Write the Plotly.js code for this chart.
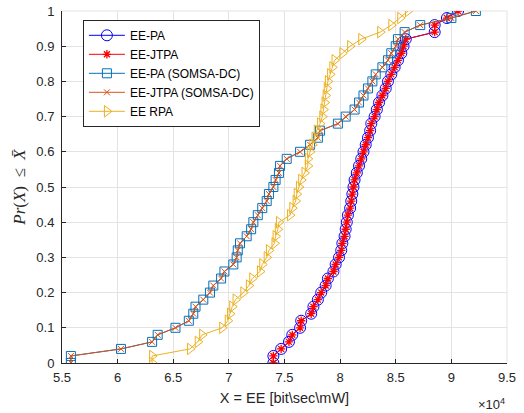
<!DOCTYPE html>
<html>
<head>
<meta charset="utf-8">
<script src="https://cdn.plot.ly/plotly-3.0.1.min.js"></script>
<style>html,body{margin:0;padding:0;background:#fff;}#chart{width:524px;height:413px;}</style>
</head>
<body>
<div id="chart"></div>
<script>
// CDF levels (0 to 1 in steps of 0.02)
const cdfLevels = [0,0.02,0.04,0.06,0.08,0.10,0.12,0.14,0.16,0.18,0.20,0.22,0.24,0.26,0.28,0.30,0.32,0.34,0.36,0.38,0.40,0.42,0.44,0.46,0.48,0.50,0.52,0.54,0.56,0.58,0.60,0.62,0.64,0.66,0.68,0.70,0.72,0.74,0.76,0.78,0.80,0.82,0.84,0.86,0.88,0.90,0.92,0.94,0.96,0.98,1.00];

// EE values, in units of 10^4 bit/sec/mW
const eePA = [7.40,7.40,7.47,7.54,7.57,7.64,7.65,7.74,7.76,7.80,7.83,7.87,7.89,7.94,7.96,7.99,8.01,8.02,8.04,8.05,8.06,8.07,8.09,8.10,8.11,8.12,8.13,8.15,8.17,8.19,8.21,8.23,8.25,8.27,8.28,8.31,8.33,8.35,8.38,8.41,8.43,8.46,8.49,8.52,8.55,8.57,8.59,8.85,8.85,8.96,9.06];
const eeJTPA = eePA.slice();
const eePASomsa = [5.58,5.58,6.03,6.31,6.36,6.52,6.64,6.68,6.70,6.77,6.83,6.86,6.93,6.96,7.04,7.07,7.08,7.10,7.16,7.20,7.22,7.26,7.30,7.34,7.36,7.40,7.42,7.45,7.46,7.52,7.64,7.73,7.80,7.82,7.98,8.05,8.13,8.17,8.21,8.25,8.29,8.32,8.38,8.43,8.46,8.50,8.52,8.58,8.72,9.00,9.22];
const eeJTPASomsa = eePASomsa.slice();
const eeRPA = [6.31,6.31,6.65,6.72,6.76,6.94,6.99,7.01,7.03,7.06,7.13,7.18,7.21,7.28,7.30,7.34,7.36,7.41,7.42,7.44,7.45,7.55,7.57,7.60,7.61,7.63,7.65,7.68,7.71,7.71,7.73,7.75,7.77,7.79,7.82,7.84,7.85,7.86,7.87,7.88,7.89,7.91,7.93,7.95,8.02,8.09,8.19,8.36,8.46,8.54,8.61];

const seriesNames = ['EE-PA','EE-JTPA','EE-PA (SOMSA-DC)','EE-JTPA (SOMSA-DC)','EE RPA'];
const xTicks = [5.5,6,6.5,7,7.5,8,8.5,9,9.5];
const yTicks = [0,0.1,0.2,0.3,0.4,0.5,0.6,0.7,0.8,0.9,1];

const txt = '#262626';
const traces = [
  {x: eePA, y: cdfLevels, name: seriesNames[0], mode: 'lines+markers',
   line: {color: '#0000ff', width: 1},
   marker: {symbol: 'circle-open', size: 11, color: '#0000ff', line: {width: 1, color: '#0000ff'}}},
  {x: eeJTPA, y: cdfLevels, name: seriesNames[1], mode: 'lines+markers',
   line: {color: '#ff0000', width: 1},
   marker: {symbol: 'asterisk-open', size: 7, color: '#ff0000', line: {width: 1.3, color: '#ff0000'}}},
  {x: eePASomsa, y: cdfLevels, name: seriesNames[2], mode: 'lines+markers',
   line: {color: '#0072BD', width: 1},
   marker: {symbol: 'square-open', size: 9, color: '#0072BD', line: {width: 1, color: '#0072BD'}}},
  {x: eeJTPASomsa, y: cdfLevels, name: seriesNames[3], mode: 'lines+markers',
   line: {color: '#D95319', width: 1},
   marker: {symbol: 'x-thin-open', size: 6, color: '#D95319', line: {width: 1, color: '#D95319'}}},
  {x: eeRPA, y: cdfLevels, name: seriesNames[4], mode: 'lines+markers',
   line: {color: '#EDB120', width: 1},
   marker: {symbol: 'triangle-right-open', size: 10, color: '#EDB120', line: {width: 1, color: '#EDB120'}}}
];

const layout = {
  width: 524, height: 413,
  margin: {l: 62, r: 17, t: 11, b: 50},
  paper_bgcolor: '#ffffff', plot_bgcolor: '#ffffff',
  font: {family: 'Liberation Sans, Arial, sans-serif', size: 12, color: txt},
  showlegend: true,
  legend: {x: 0.047, y: 0.975, xanchor: 'left', yanchor: 'top',
           bgcolor: '#ffffff', bordercolor: txt, borderwidth: 1,
           font: {size: 12, color: '#000000'}, tracegroupgap: 0, itemwidth: 36},
  xaxis: {range: [5.5, 9.5], tickvals: xTicks, ticktext: xTicks.map(String),
          showgrid: true, gridcolor: '#e3e3e3', gridwidth: 1,
          zeroline: false, showline: true, linecolor: txt, linewidth: 1,
          ticks: 'inside', ticklen: 4, tickcolor: txt, tickfont: {size: 13, color: txt},
          ticklabelstandoff: 2,
          title: {text: 'X = EE [bit\\sec\\mW]', font: {size: 14.5, color: txt}, standoff: 9},
          automargin: false},
  yaxis: {range: [0, 1], tickvals: yTicks, ticktext: yTicks.map(String),
          showgrid: true, gridcolor: '#e3e3e3', gridwidth: 1,
          zeroline: false, showline: true, linecolor: txt, linewidth: 1,
          ticks: 'inside', ticklen: 4, tickcolor: txt, tickfont: {size: 13, color: txt},
          ticklabelstandoff: 4,
          title: {text: '<i>Pr</i>(<i>X</i>)  ≤  <i>X̄</i>', font: {family: 'Liberation Serif, DejaVu Serif, serif', size: 17, color: txt}, standoff: 6},
          automargin: false},
  shapes: [
    {type: 'line', xref: 'paper', yref: 'paper', x0: 0, x1: 1, y0: 1, y1: 1, line: {color: '#e3e3e3', width: 1}, layer: 'below'},
    {type: 'line', xref: 'paper', yref: 'paper', x0: 1, x1: 1, y0: 0, y1: 1, line: {color: '#e3e3e3', width: 1}, layer: 'below'}
  ],
  annotations: [
    {xref: 'paper', yref: 'paper', x: 1.0, y: -0.088, xanchor: 'right', yanchor: 'top',
     text: '×10<sup>4</sup>', showarrow: false, font: {size: 13, color: txt}}
  ]
};

Plotly.newPlot('chart', traces, layout, {displayModeBar: false, staticPlot: true});
</script>
</body>
</html>
